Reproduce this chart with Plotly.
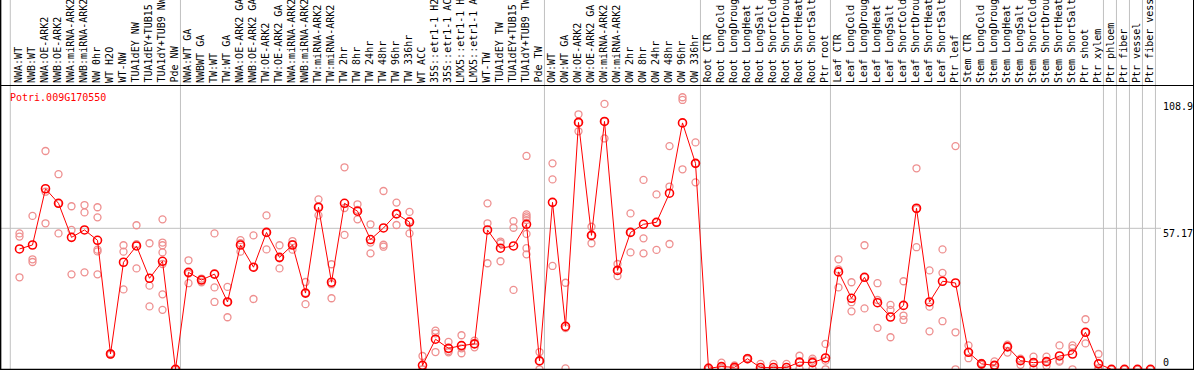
import plotly.graph_objects as go

W, H = 1194, 370

gene = "Potri.009G170550"

labels = [
    "NWA:WT", "NWB:WT", "NWA:OE-ARK2", "NWB:OE-ARK2", "NWA:miRNA-ARK2", "NWB:miRNA-ARK2",
    "NW 0hr", "WT H2O", "WT-NW", "TUA1dEY NW", "TUA1dEY+TUB15 NW", "TUA1dY+TUB9 NW", "Pde NW",
    "NWA:WT GA", "NWBWT GA", "TW:WT", "TW:WT GA", "NWA:OE-ARK2 GA", "NWB:OE-ARK2 GA",
    "TW:OE-ARK2", "TW:OE-ARK2 GA", "NWA:miRNA-ARK2 GA", "NWB:miRNA-ARK2 GA", "TW:miRNA-ARK2",
    "TW:miRNA-ARK2 GA", "TW 2hr", "TW 8hr", "TW 24hr", "TW 48hr", "TW 96hr", "TW 336hr",
    "WT ACC", "35S::etr1-1 H2O", "35S::etr1-1 ACC", "LMX5::etr1-1 H2O", "LMX5::etr1-1 ACC",
    "WT-TW", "TUA1dEY TW", "TUA1dEY+TUB15 TW", "TUA1dY+TUB9 TW", "Pde TW",
    "OW:WT", "OW:WT GA", "OW:OE-ARK2", "OW:OE-ARK2 GA", "OW:miRNA-ARK2", "OW:miRNA-ARK2 GA",
    "OW 2hr", "OW 8hr", "OW 24hr", "OW 48hr", "OW 96hr", "OW 336hr",
    "Root CTR", "Root LongCold", "Root LongDrought", "Root LongHeat", "Root LongSalt",
    "Root ShortCold", "Root ShortDrought", "Root ShortHeat", "Root ShortSalt", "Ptr root",
    "Leaf CTR", "Leaf LongCold", "Leaf LongDrought", "Leaf LongHeat", "Leaf LongSalt",
    "Leaf ShortCold", "Leaf ShortDrought", "Leaf ShortHeat", "Leaf ShortSalt", "Ptr leaf",
    "Stem CTR", "Stem LongCold", "Stem LongDrought", "Stem LongHeat", "Stem LongSalt",
    "Stem ShortCold", "Stem ShortDrought", "Stem ShortHeat", "Stem ShortSalt", "Ptr shoot",
    "Ptr xylem", "Ptr phloem", "Ptr fiber", "Ptr vessel", "Ptr fiber vessel",
]

means = [
    48.8, 50.4, 73.2, 67.3, 53.5, 56.5, 52.3, 6.2, 43.4, 50.0, 36.9, 43.8, 0.0,
    39.3, 36.2, 38.6, 27.3, 50.4, 41.4, 55.5, 45.4, 50.4, 30.9, 65.7, 35.3, 67.3, 64.1,
    52.6, 57.3, 63.0, 59.7, 1.6, 12.2, 8.5, 9.6, 10.3, 56.5, 49.1, 50.0, 58.8, 3.4,
    67.7, 17.4, 100.1, 54.3, 100.5, 40.1, 55.5, 58.8, 59.6, 71.4, 99.9, 83.5,
    0.4, 1.1, 0.8, 4.3, 0.7, 0.7, 0.7, 2.9, 2.7, 4.6,
    39.5, 28.8, 37.3, 27.0, 21.2, 25.9, 65.3, 27.3, 35.7, 35.0,
    6.9, 2.2, 1.6, 9.1, 3.5, 2.7, 3.1, 5.4, 6.2, 15.0, 2.2,
    0.0, 0.0, 0.0, 0.0,
]

replicates = [
    [55.1, 53.8, 37.3], [62.2, 44.6, 43.5], [88.5, 72.0, 59.2], [79.1, 67.3, 55.1],
    [66.1, 56.5, 38.5], [66.6, 63.6, 39.3], [65.7, 61.6, 48.5, 47.8, 38.5], [6.5, 6.0, 6.2],
    [50.3, 47.7, 32.4], [58.4, 50.7, 40.9], [51.1, 33.9, 25.5],
    [60.8, 51.4, 50.3, 47.4, 42.7, 30.4, 24.1], [0.0, 0.0, 0.0],
    [44.2, 38.8, 34.9], [36.8, 36.2, 35.3], [55.1, 33.2, 27.3], [33.4, 27.3, 21.1],
    [52.4, 51.1, 47.7], [54.3, 41.4, 28.5], [62.4, 55.5, 48.6], [50.3, 45.0, 40.9],
    [52.0, 50.7, 48.5], [35.4, 31.0, 26.4], [68.9, 65.8, 62.4], [42.6, 34.5, 28.8],
    [81.9, 65.4, 54.5], [66.9, 64.6, 60.8], [58.8, 51.4, 47.0], [72.3, 50.5, 49.7],
    [67.6, 63.0, 58.5], [63.8, 60.2, 55.1], [5.4, 0.0, 0.0], [15.7, 14.6, 7.0],
    [11.1, 7.4, 6.9], [13.8, 8.5, 6.5], [11.6, 10.3, 8.9], [67.3, 59.2, 43.0],
    [51.8, 51.1, 43.8], [60.1, 57.4, 32.2],
    [86.5, 62.8, 62.0, 61.3, 60.5, 54.9, 49.1, 46.6], [7.0, 3.4, 0.0],
    [83.5, 77.0, 41.9], [35.1, 16.7, 0.4], [103.4, 100.1, 96.5], [57.8, 54.3, 51.1],
    [107.6, 100.5, 93.6], [42.7, 40.1, 37.8], [63.2, 55.5, 47.4], [76.8, 53.1, 47.0],
    [70.9, 59.6, 48.4], [90.5, 74.1, 50.8], [110.3, 109.2, 81.1], [92.0, 83.5, 75.8],
    [0.8, 0.4, 0.0], [2.7, 0.6, 0.0], [1.6, 0.6, 0.2], [4.6, 4.3, 4.0], [2.2, 0.0, 0.0],
    [2.2, 0.0, 0.0], [2.2, 0.0, 0.0], [5.5, 3.0, 0.3], [4.3, 3.5, 0.3], [10.3, 3.5, 0.0],
    [44.6, 40.5, 33.2], [35.3, 27.2, 23.5], [50.3, 37.3, 24.7], [34.9, 28.1, 16.8],
    [26.1, 24.1, 13.0], [35.7, 21.8, 20.0], [81.5, 65.0, 49.5], [40.1, 25.4, 15.4],
    [48.6, 39.1, 19.5], [90.5, 15.0, 0.0],
    [9.7, 6.9, 4.5], [2.6, 2.2, 1.8], [3.2, 1.6, 0.0], [10.0, 9.1, 6.8], [4.3, 3.5, 1.8],
    [5.1, 2.7, 0.5], [5.1, 3.1, 1.4], [9.7, 3.5, 3.1], [9.7, 8.6, 0.0], [20.3, 15.0, 10.5],
    [6.2, 0.5, 0.0],
    [0.0, 0.0, 0.0], [0.0, 0.0, 0.0], [0.0, 0.0, 0.0], [0.0, 0.0, 0.0],
]

# index of last sample in each group (separator drawn right after it)
group_ends = [12, 40, 52, 62, 72, 83, 84, 85, 86, 87]

y_ticks = [108.9, 57.17, 0]
ref_line = 57.17

FONT = "DejaVu Sans Mono"
x = list(range(len(labels)))

rx, ry = [], []
for i, vals in enumerate(replicates):
    for v in vals:
        rx.append(i)
        ry.append(v)

fig = go.Figure()
fig.add_trace(go.Scatter(
    x=rx, y=ry, mode="markers",
    marker=dict(symbol="circle-open", size=7, color="#ee8f8f", line=dict(width=1.3)),
    hoverinfo="skip", showlegend=False,
))
fig.add_trace(go.Scatter(
    x=x, y=means, mode="lines+markers",
    line=dict(color="#ff0000", width=1),
    marker=dict(symbol="circle-open", size=8, color="#ff0000", line=dict(width=1.6)),
    showlegend=False,
))

top_px = 85
ydom_top = 1 - top_px / H

shapes = []
# vertical separators
for xv in [-0.71] + [g + 0.38 for g in group_ends]:
    shapes.append(dict(type="line", xref="x", yref="paper", x0=xv, x1=xv, y0=0, y1=1,
                       line=dict(color="#c0c0c0", width=1), layer="below"))
# horizontal reference line
shapes.append(dict(type="line", xref="paper", yref="y", x0=0, x1=1161 / W, y0=ref_line, y1=ref_line,
                   line=dict(color="#c0c0c0", width=1), layer="below"))
# black frame lines
shapes.append(dict(type="line", xref="paper", yref="paper", x0=0, x1=1, y0=1 - 85.5 / H, y1=1 - 85.5 / H,
                   line=dict(color="black", width=1)))
shapes.append(dict(type="line", xref="paper", yref="paper", x0=0, x1=1, y0=0.6 / H, y1=0.6 / H,
                   line=dict(color="black", width=1.5)))
shapes.append(dict(type="line", xref="paper", yref="paper", x0=0.6 / W, x1=0.6 / W, y0=0, y1=1,
                   line=dict(color="black", width=1.5)))
shapes.append(dict(type="line", xref="paper", yref="paper", x0=1193.5 / W, x1=1193.5 / W, y0=0, y1=1,
                   line=dict(color="black", width=1)))

annotations = []
for i, lab in enumerate(labels):
    annotations.append(dict(
        x=i - 0.08, y=1 - 83.5 / H, xref="x", yref="paper", text=lab, showarrow=False,
        textangle=-90, xanchor="center", yanchor="bottom", borderpad=0,
        font=dict(family=FONT, size=10, color="black"),
    ))

tick_px = {108.9: 107, 57.17: 233, 0: 362}
for t in y_ticks:
    annotations.append(dict(
        x=1162 / W, y=1 - tick_px[t] / H, xref="paper", yref="paper", text=str(t),
        showarrow=False, xanchor="left", yanchor="middle", borderpad=0,
        font=dict(family=FONT, size=10, color="black"),
    ))

annotations.append(dict(
    x=9 / W, y=1 - 97 / H, xref="paper", yref="paper", text=gene, showarrow=False,
    xanchor="left", yanchor="middle", borderpad=0,
    font=dict(family=FONT, size=10, color="#ff0000"),
))

fig.update_layout(
    width=W, height=H,
    margin=dict(l=0, r=0, t=0, b=0, pad=0, autoexpand=False),
    paper_bgcolor="white", plot_bgcolor="white",
    xaxis=dict(range=[-1.5, (W - 19.5) / 13], showgrid=False, zeroline=False,
               showticklabels=False, ticks="", fixedrange=True),
    yaxis=dict(range=[-0.284, 115.27], domain=[0, ydom_top], showgrid=False, zeroline=False,
               showticklabels=False, ticks="", fixedrange=True),
    shapes=shapes, annotations=annotations,
    showlegend=False,
)

fig.write_html(
    "out.html",
    config={"displayModeBar": False},
    post_script="document.body.style.margin='0';document.body.style.overflow='hidden';",
)
